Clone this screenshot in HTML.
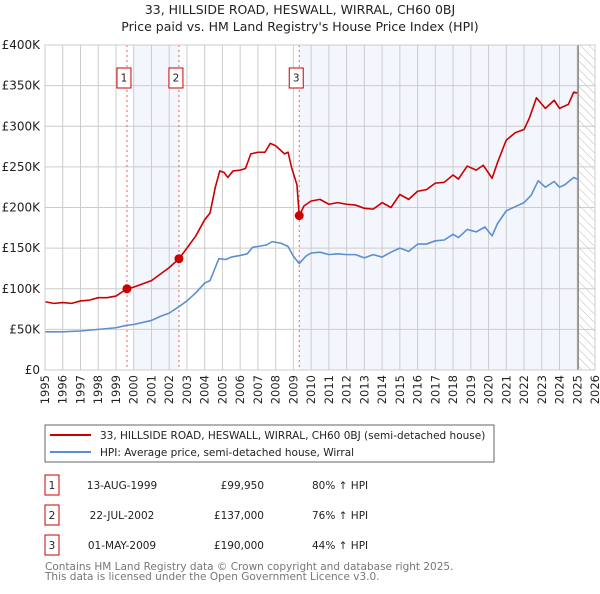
<!DOCTYPE html>
<html><head><meta charset="utf-8"><style>
body{margin:0;background:#fff;font-family:"DejaVu Sans","Liberation Sans",sans-serif}
svg text{font-family:"DejaVu Sans","Liberation Sans",sans-serif}
</style></head><body>
<svg id="c" width="600" height="590" xmlns="http://www.w3.org/2000/svg">
<defs><pattern id="hatch" width="6" height="6" patternUnits="userSpaceOnUse" patternTransform="rotate(-45)"><line x1="0" y1="0" x2="0" y2="6" stroke="#bbb" stroke-width="1"/></pattern></defs>
<text x="300" y="14" text-anchor="middle" font-size="12.5" fill="#222">33, HILLSIDE ROAD, HESWALL, WIRRAL, CH60 0BJ</text>
<text x="300" y="31" text-anchor="middle" font-size="12.5" fill="#222">Price paid vs. HM Land Registry's House Price Index (HPI)</text>
<g id="plot"></g>
<rect x="45" y="425" width="449" height="37" fill="#fff" stroke="#666"/>
<line x1="50" y1="435" x2="91" y2="435" stroke="#cc0000" stroke-width="2"/>
<text x="100" y="439" font-size="10.5" fill="#222">33, HILLSIDE ROAD, HESWALL, WIRRAL, CH60 0BJ (semi-detached house)</text>
<line x1="50" y1="452" x2="91" y2="452" stroke="#5b8fd0" stroke-width="2"/>
<text x="100" y="456" font-size="10.5" fill="#222">HPI: Average price, semi-detached house, Wirral</text>
<g id="tbl"></g>
<text x="45" y="570" font-size="10.5" fill="#777">Contains HM Land Registry data © Crown copyright and database right 2025.</text>
<text x="45" y="580" font-size="10.5" fill="#777">This data is licensed under the Open Government Licence v3.0.</text>
</svg>
<script>
const redX=[1995,1995.5,1996,1996.5,1997,1997.5,1998,1998.5,1999,1999.62,2000,2000.5,2001,2001.5,2002,2002.55,2003,2003.5,2004,2004.3,2004.6,2004.85,2005.1,2005.3,2005.6,2006,2006.3,2006.6,2007,2007.4,2007.7,2008,2008.3,2008.5,2008.7,2008.9,2009.2,2009.33,2009.6,2010,2010.5,2011,2011.5,2012,2012.5,2013,2013.5,2014,2014.5,2015,2015.5,2016,2016.5,2017,2017.5,2018,2018.3,2018.8,2019.3,2019.7,2020.2,2020.5,2020.8,2021,2021.5,2022,2022.3,2022.7,2023.2,2023.7,2024,2024.5,2024.8,2025];
const redY=[84,82,83,82,85,86,89,89,91,100,102,106,110,118,126,137,150,165,185,193,225,245,243,237,245,246,248,266,268,268,279,276,270,266,268,249,228,190,202,208,210,204,206,204,203,199,198,206,200,216,210,220,222,230,231,240,235,251,246,252,236,255,272,283,292,296,310,335,322,332,322,327,342,341];
const hpiX=[1995,1996,1997,1998,1999,1999.6,2000,2001,2001.5,2002,2002.55,2003,2003.5,2004,2004.3,2004.8,2005.2,2005.5,2006,2006.4,2006.7,2007,2007.5,2007.8,2008.3,2008.7,2009,2009.33,2009.7,2010,2010.5,2011,2011.5,2012,2012.5,2013,2013.5,2014,2014.5,2015,2015.5,2016,2016.5,2017,2017.5,2018,2018.3,2018.8,2019.3,2019.8,2020.2,2020.5,2021,2021.5,2022,2022.4,2022.8,2023.2,2023.7,2024,2024.3,2024.8,2025];
const hpiY=[47,47,48,50,52,55,56,61,66,70,78,85,95,107,110,137,136,139,141,143,151,152,154,158,156,152,140,131,140,144,145,142,143,142,142,138,142,139,145,150,146,155,155,159,160,167,163,173,170,176,165,180,196,201,206,215,233,225,232,225,228,237,235];
const saleX=[1999.62,2002.55,2009.33];
const saleY=[99.95,137,190];
const saleLabels=["1","2","3"];
const saleDates=["13-AUG-1999","22-JUL-2002","01-MAY-2009"];
const salePrices=["£99,950","£137,000","£190,000"];
const salePct=["80% ↑ HPI","76% ↑ HPI","44% ↑ HPI"];
const yTicks=[0,50,100,150,200,250,300,350,400];
const yTickLabels=["£0","£50K","£100K","£150K","£200K","£250K","£300K","£350K","£400K"];
const years=[1995,1996,1997,1998,1999,2000,2001,2002,2003,2004,2005,2006,2007,2008,2009,2010,2011,2012,2013,2014,2015,2016,2017,2018,2019,2020,2021,2022,2023,2024,2025,2026];
const dataEnd=2025.05;

const L=45,R=595,T=45,B=370;
const sx=v=>L+(v-1995)/(2026-1995)*(R-L);
const sy=v=>B-v/400*(B-T);
const NS="http://www.w3.org/2000/svg";
const g=document.getElementById('plot');
function mk(tag,attrs,parent){const e=document.createElementNS(NS,tag);for(const k in attrs)e.setAttribute(k,attrs[k]);(parent||g).appendChild(e);return e;}
let e;
e=mk('rect',{x:sx(2000),y:T,width:sx(saleX[1])-sx(2000),height:B-T,fill:'#f3f6fd'});


e=mk('rect',{x:sx(saleX[2]),y:T,width:sx(dataEnd)-sx(saleX[2]),height:B-T,fill:'#f3f6fd'});


e=mk('rect',{x:sx(dataEnd),y:T,width:R-sx(dataEnd),height:B-T,fill:'url(#hatch)'});


years.forEach(y=>{e=mk('line',{x1:sx(y),x2:sx(y),y1:T,y2:B,stroke:'#ccc','stroke-width':1});


const t=mk('text',{x:0,y:0,'font-size':11.5,fill:'#222','text-anchor':'end',transform:`translate(${sx(y)+4},${B+5}) rotate(-90)`});t.textContent=y;

});
yTicks.forEach((v,i)=>{e=mk('line',{x1:L,x2:R,y1:sy(v),y2:sy(v),stroke:'#ccc','stroke-width':1});


const t=mk('text',{x:40,y:sy(v)+4,'font-size':12,fill:'#222','text-anchor':'end'});t.textContent=yTickLabels[i];

});
e=mk('line',{x1:sx(dataEnd),x2:sx(dataEnd),y1:T,y2:B,stroke:'#888','stroke-width':1.5});


saleX.forEach((x,i)=>{e=mk('line',{x1:sx(x),x2:sx(x),y1:T,y2:B,stroke:'#f06060','stroke-width':1,'stroke-dasharray':'2,3'});


e=mk('rect',{x:sx(x)-10,y:68,width:14,height:20,fill:'#fff',stroke:'#cc0000'});


const t=mk('text',{x:sx(x)-3,y:81.5,'font-size':10.5,fill:'#222','text-anchor':'middle'});t.textContent=saleLabels[i];

});
function line(xs,ys,col,name){e=mk('polyline',{points:xs.map((x,i)=>sx(x)+','+sy(ys[i])).join(' '),fill:'none',stroke:col,'stroke-width':1.6,'stroke-linejoin':'round'});

}
line(hpiX,hpiY,'#5b8fd0','hpi-line');
line(redX,redY,'#cc0000','property-line');
saleX.forEach((x,i)=>{e=mk('circle',{cx:sx(x),cy:sy(saleY[i]),r:4.5,fill:'#cc0000'});

});
e=mk('rect',{x:L,y:T,width:R-L,height:B-T,fill:'none',stroke:'#ccc'});


const tb=document.getElementById('tbl');
saleLabels.forEach((s,i)=>{const y=475+i*30;
e=mk('rect',{x:45,y:y,width:14,height:20,fill:'#fff',stroke:'#cc0000'},tb);


const cols=[[52,s,'middle'],[122,saleDates[i],'middle'],[264,salePrices[i],'end'],[312,salePct[i],'start']];
const names=['table-index','table-date','table-price','table-hpi-change'];
cols.forEach((c,j)=>{const t=mk('text',{x:c[0],y:y+14,'font-size':10.5,fill:'#222','text-anchor':c[2]},tb);t.textContent=c[1];

});});
</script>
</body></html>
